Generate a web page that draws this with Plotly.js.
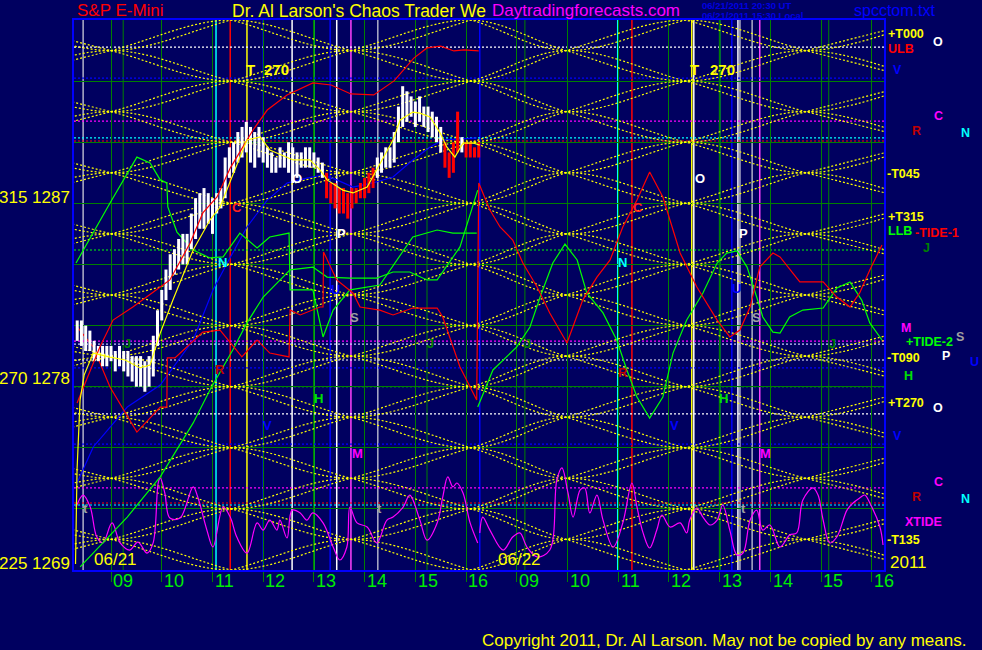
<!DOCTYPE html>
<html><head><meta charset="utf-8">
<script src="https://cdn.plot.ly/plotly-3.0.1.min.js"></script>
<style>html,body{margin:0;padding:0;background:#000060;}#chart{width:982px;height:650px;}</style>
</head><body><div id="chart"></div>
<script>
// x axis: session hours. 06/21 hour h -> h ; 06/22 hour h -> h + 8 (overnight compressed)
const HOURS_DAY1 = [9,10,11,12,13,14,15,16];
const HOURS_DAY2 = [17,18,19,20,21,22,23,24];
const HOUR_LABELS = ['09','10','11','12','13','14','15','16'];
const GRID_PRICES = [1272,1275,1278,1281,1284,1287,1290,1293];

// 5-minute S&P E-mini bars, 06/21 08:20 .. 16:15
const BAR_START = 8 + 20/60, BAR_STEP = 5/60;
const BAR_HIGH = [1281.25,1281.25,1281.0,1280.75,1280.25,1280.0,1280.0,1280.0,1280.0,1279.75,
 1280.0,1279.75,1279.75,1279.5,1279.5,1279.5,1279.25,1279.5,1280.5,1281.75,
 1282.75,1283.75,1284.5,1284.75,1285.25,1285.5,1285.5,1286.5,1287.25,1287.5,
 1287.75,1287.5,1287.25,1287.5,1287.75,1289.25,1289.75,1290.0,1290.5,1290.75,
 1291.0,1290.75,1290.5,1290.75,1290.25,1289.75,1289.5,1289.25,1289.75,1289.5,
 1290.0,1289.75,1289.5,1289.5,1289.75,1289.75,1289.5,1289.25,1289.0,1288.5,
 1288.0,1288.0,1287.75,1287.75,1287.5,1287.75,1287.75,1288.0,1288.25,1288.5,
 1288.75,1289.25,1289.5,1289.75,1289.75,1290.5,1291.75,1292.75,1292.5,1292.25,
 1292.0,1292.25,1291.75,1291.75,1291.5,1291.25,1290.75,1290.0,1289.5,1290.0,
 1291.5,1290.25,1290.0,1290.0,1289.75,1290.0];
const BAR_LOW = [1280.25,1280.0,1279.75,1279.75,1279.25,1279.25,1279.0,1279.0,1279.25,1278.75,
 1279.0,1278.75,1278.5,1278.25,1278.0,1278.0,1277.75,1278.0,1278.5,1280.0,
 1281.25,1282.25,1282.75,1283.5,1283.75,1284.0,1284.0,1284.75,1285.25,1285.75,
 1285.75,1286.0,1285.5,1286.5,1286.75,1287.25,1288.25,1288.5,1289.0,1289.25,
 1289.5,1289.0,1288.75,1289.25,1289.0,1288.75,1288.5,1288.5,1288.75,1288.75,
 1288.5,1288.0,1288.25,1288.75,1288.75,1288.75,1288.75,1288.5,1288.25,1287.25,
 1287.0,1286.75,1286.5,1286.5,1286.25,1286.75,1287.0,1287.25,1287.25,1287.5,
 1287.75,1288.25,1288.5,1288.75,1288.75,1289.0,1290.0,1290.75,1291.0,1291.25,
 1290.75,1291.0,1290.75,1290.5,1290.25,1290.0,1289.5,1288.75,1288.25,1288.5,
 1289.5,1289.5,1289.25,1289.25,1289.25,1289.25];
const RED_BARS = [59,60,61,62,63,64,65,66,67,68,69,70,87,88,89,90,92,93,94,95];

// yellow moving average of price
const MA_T = [8.3,8.33,8.39,8.47,8.65,8.98,9.28,9.57,9.77,9.97,10.22,10.62,10.95,11.15,11.4,11.68,11.94,12.13,12.59,12.92,13.12,13.26,13.57,13.77,14.05,14.24,14.56,14.7,14.95,15.09,15.29,15.49,15.62,15.78,15.94,16.14,16.27];
const MA_P = [1269.3,1273.9,1277.35,1278.57,1279.65,1279.45,1279.31,1278.92,1279.06,1280.63,1282.25,1284.71,1286.18,1286.82,1288.39,1290.11,1290.26,1289.62,1289.13,1289.13,1288.64,1288.15,1287.65,1287.51,1287.8,1288.64,1290.11,1291.09,1291.48,1291.43,1291.24,1290.45,1289.77,1289.27,1289.96,1289.96,1289.86];

// red ULB line
const ULB_T = [8.33,8.59,8.78,9.04,9.43,9.97,10.16,10.56,10.81,11.09,11.35,11.6,11.8,12.08,12.47,12.98,13.34,13.73,14.18,14.58,14.97,15.23,15.5,15.76,15.96,16.25];
const ULB_P = [1277.2,1278.82,1279.95,1281.27,1281.91,1282.89,1283.24,1285.05,1286.53,1287.31,1288.73,1289.77,1290.6,1291.58,1292.32,1292.91,1292.81,1292.37,1292.32,1293.01,1294.13,1294.63,1294.72,1294.48,1294.53,1294.48];

// red TIDE-1
const TIDE1_T = [8.33,8.65,8.98,9.51,9.97,10.1,10.11,10.26,10.81,11.15,11.58,11.88,12.13,12.51,12.53,12.73,13.12,13.18,13.19,13.45,13.77,13.91,14.3,14.56,14.95,15.43,15.54,15.88,16.21,16.25,16.47,16.67,16.92,17.12,17.4,17.65,17.99,18.3,18.58,18.84,19.09,19.37,19.62,19.88,20.02,20.22,20.55,20.95,21.2,21.4,21.6,21.79,22.05,22.19,22.58,23.04,23.31,23.57,23.76,23.96,24.2];
const TIDE1_P = [1280.93,1279.95,1277.98,1275.77,1277.0,1277.0,1279.41,1279.41,1280.68,1280.78,1279.46,1280.29,1279.65,1279.46,1281.76,1281.52,1281.91,1281.91,1284.61,1283.24,1282.6,1281.91,1281.76,1281.52,1281.86,1281.86,1281.42,1278.97,1277.35,1288.0,1286.67,1285.84,1285.2,1284.07,1282.89,1281.62,1280.14,1282.25,1283.38,1284.22,1285.84,1287.16,1288.54,1287.31,1286.18,1284.56,1282.89,1281.27,1280.44,1280.78,1281.91,1283.87,1284.56,1284.37,1283.14,1283.14,1282.4,1281.91,1282.6,1283.73,1284.95];

// green lines
const GA_T = [8.31,8.98,9.51,9.77,9.97,10.1,10.12,10.3,10.62,10.95,11.21,11.54,11.88,12.13,12.51,12.53,12.98,13.18,13.38,13.71,14.3,14.95,15.43,15.74,16.21];
const GA_P = [1284.07,1287.02,1289.27,1288.98,1288.15,1288.0,1286.82,1285.59,1284.71,1284.32,1284.37,1285.54,1284.81,1285.35,1285.54,1282.75,1282.75,1280.44,1281.76,1282.75,1282.99,1285.35,1285.69,1285.54,1285.54];
const GC_T = [8.39,9.32,9.97,10.62,10.95,11.4,11.68,12.0,12.53,12.98,13.26,13.71,14.24,14.56,14.89,15.23,15.43,15.88,16.23];
const GC_P = [1269.15,1271.6,1273.57,1276.22,1277.84,1279.8,1281.13,1282.4,1283.73,1283.87,1283.38,1283.33,1283.33,1283.63,1283.63,1283.24,1283.24,1284.86,1287.65];
const GD_T = [16.23,16.53,17.0,17.26,17.46,17.71,17.95,18.19,18.38,18.7,18.97,19.17,19.37,19.62,19.88,20.08,20.35,20.67,20.95,21.14,21.34,21.54,21.73,21.85,22.05,22.19,22.38,22.64,23.04,23.31,23.57,23.8,23.96,24.2];
const GD_P = [1277.0,1278.82,1279.95,1280.93,1282.4,1284.07,1285.0,1284.22,1282.6,1281.62,1280.29,1278.82,1277.49,1276.46,1277.49,1279.65,1281.27,1282.6,1284.07,1284.56,1284.66,1283.87,1282.4,1281.42,1280.68,1280.63,1281.42,1281.76,1281.86,1282.84,1283.14,1282.25,1281.13,1280.29];

// blue line
const BL_T = [8.33,8.65,9.32,9.97,10.62,11.01,11.29,11.68,12.08,12.47,12.86,13.18,13.45,13.77,14.16,14.56,14.95,15.29,15.54,16.21];
const BL_P = [1273.27,1275.04,1277.0,1278.08,1280.29,1282.75,1284.07,1285.84,1287.16,1288.0,1288.24,1288.39,1288.15,1287.8,1288.0,1288.29,1289.13,1289.77,1290.11,1290.21];

// magenta XTIDE
const XT1_T = [8.31,8.45,8.59,8.72,8.84,9.02,9.18,9.37,9.53,9.71,9.83,9.93,9.97,10.06,10.16,10.36,10.62,10.71,10.89,11.01,11.21,11.35,11.48,11.68,11.88,12.0,12.13,12.27,12.33,12.47,12.57,12.73,12.86,12.98,13.18,13.38,13.51,13.65,13.71,13.85,14.05,14.24,14.44,14.56,14.76,14.89,15.09,15.23,15.43,15.54,15.64,15.74,15.82,15.94,16.08,16.23];
const XT1_P = [1272.09,1272.68,1272.09,1270.62,1270.33,1271.31,1270.33,1269.98,1270.37,1269.83,1270.33,1273.27,1273.52,1272.78,1271.55,1271.55,1273.08,1272.58,1270.96,1270.13,1272.09,1271.6,1270.62,1269.83,1271.31,1270.96,1271.45,1270.96,1271.45,1270.57,1271.94,1271.8,1271.45,1271.8,1271.31,1270.13,1269.49,1270.13,1272.09,1271.31,1271.11,1270.33,1271.45,1271.6,1272.09,1272.68,1271.45,1270.47,1271.31,1272.58,1273.57,1273.08,1273.27,1272.78,1271.31,1270.33];
const XT2_T = [16.27,16.33,16.47,16.73,16.92,17.06,17.2,17.4,17.65,17.79,17.89,18.01,18.11,18.25,18.34,18.44,18.58,18.7,18.9,19.09,19.27,19.37,19.49,19.62,19.76,19.86,20.02,20.22,20.35,20.41,20.55,20.67,20.81,20.95,21.06,21.2,21.34,21.46,21.6,21.73,21.85,21.99,22.19,22.38,22.52,22.64,22.84,22.94,23.04,23.17,23.31,23.51,23.63,23.76,23.86,23.96,24.16,24.22];
const XT2_P = [1270.82,1271.6,1270.96,1269.98,1270.62,1270.82,1270.13,1269.64,1269.98,1273.42,1274.01,1272.78,1271.6,1272.93,1273.03,1271.8,1272.68,1271.45,1270.13,1271.31,1273.27,1272.09,1270.82,1270.08,1270.96,1271.7,1271.11,1271.31,1270.82,1271.45,1272.04,1271.6,1271.21,1271.45,1272.19,1270.96,1269.74,1269.83,1271.45,1271.94,1270.96,1271.21,1270.13,1270.72,1270.82,1272.44,1273.03,1272.68,1271.45,1270.33,1270.62,1271.94,1272.29,1272.53,1272.68,1272.29,1271.11,1270.23];

// time/price lattice nodes
const LAT_X = [6.63,9.0,11.37,13.73,16.1,17.97,20.33,22.7,25.07];
const LAT_SIN = [0,1.5,0,-1.5,0,1.5,0,-1.5,0];
const LAT_COS = [1.5,0,-1.5,0,1.5,0,-1.5,0,1.5];
const SIN_LEVELS = [1269,1272,1275,1278,1281,1284,1287,1290,1293,1296];
const COS_LEVELS = [1270.5,1273.5,1276.5,1279.5,1282.5,1285.5,1288.5,1291.5,1294.5];

// vertical event lines (session hours)
const V_DKGREEN = [9.24,15.23,17.16,23.15];
const V_LIME = [13.0,21.0];
const V_CYAN = [11.07,18.99];
const V_RED = [11.35,19.27];
const V_YELLOW = [11.68,20.45];
const V_WHITE = [12.57,13.45,20.49,21.36];
const V_GRAY = [8.45,14.26,21.4,21.64];
const V_BLUE = [12.0,13.32,16.27,21.24];
const V_MAGENTA = [13.73,21.79];

// horizontal dotted price levels
const H_WHITE = [1294.67,1279.31,1276.66];
const H_LAVENDER = [1280.09];
const H_BLUE = [1293.15,1278.92,1275.18];
const H_MAGENTA = [1291.04,1280.24,1273.03];
const H_CYAN = [1290.21,1272.19];
const H_RED = [1290.06,1272.29];
const H_LIME = [1284.71,1278.0];

// chart letters [text, time, price, color]
const LETTERS = [
 ['C',11.48,1286.82,'#ff2020'],['N',11.19,1284.12,'#00ffff'],['O',12.67,1288.24,'#ffffff'],
 ['P',13.55,1285.54,'#ffffff'],['U',13.42,1282.75,'#0000ff'],['S',13.81,1281.42,'#a0a0a0'],
 ['J',9.32,1280.14,'#008000'],['R',11.15,1278.82,'#c00000'],['H',13.1,1277.44,'#00e000'],
 ['V',12.09,1276.07,'#0000ff'],['M',13.85,1274.74,'#ff00ff'],['t',8.49,1272.04,'#a0a0a0'],
 ['t',14.3,1272.04,'#a0a0a0'],['J',15.29,1280.14,'#008000'],
 ['O',20.61,1288.24,'#ffffff'],['C',19.39,1286.82,'#ff2020'],['N',19.09,1284.12,'#00ffff'],
 ['P',21.46,1285.54,'#ffffff'],['U',21.34,1282.84,'#0000ff'],['S',21.73,1281.42,'#a0a0a0'],
 ['J',17.22,1280.14,'#008000'],['J',23.23,1280.14,'#008000'],['R',19.09,1278.72,'#c00000'],
 ['H',21.08,1277.44,'#00e000'],['V',20.1,1276.07,'#0000ff'],['M',21.91,1274.74,'#ff00ff'],
 ['t',21.46,1272.04,'#a0a0a0'],
 ['T',11.74,1293.59,'#ffff00'],['270',12.27,1293.59,'#ffff00'],
 ['T',20.51,1293.59,'#ffff00'],['270',21.06,1293.59,'#ffff00']
];

const FONT = 'Liberation Sans, Arial, sans-serif';
const traces = [];

// lattice
const lx = [], ly = [];
SIN_LEVELS.forEach(L => [1,-1].forEach(s => { LAT_X.forEach((x,i)=>{lx.push(x); ly.push(L + s*LAT_SIN[i]);}); lx.push(null); ly.push(null); }));
COS_LEVELS.forEach(L => [1,-1].forEach(s => { LAT_X.forEach((x,i)=>{lx.push(x); ly.push(L + s*LAT_COS[i]);}); lx.push(null); ly.push(null); }));
traces.push({x:lx, y:ly, mode:'lines', line:{color:'#ffff00', width:1.2, dash:'2px,2px', shape:'spline'}});

function line(x,y,color,w,shape){ return {x:x, y:y, mode:'lines', line:{color:color, width:w||1.2, shape:shape||'linear'}}; }
traces.push(line(XT1_T, XT1_P, '#ff00ff', 1.2, 'spline'));
traces.push(line(XT2_T, XT2_P, '#ff00ff', 1.2, 'spline'));
traces.push(line(BL_T, BL_P, '#0000ff', 1.2));
traces.push(line(GA_T, GA_P, '#00ff00', 1.2));
traces.push(line(GC_T, GC_P, '#00ff00', 1.2));
traces.push(line(GD_T, GD_P, '#00ff00', 1.2));
traces.push(line(TIDE1_T, TIDE1_P, '#ff0000', 1.2));

// price bars
const wx=[], wy=[], rx=[], ry=[];
BAR_HIGH.forEach((h,i)=>{
  const t = BAR_START + i*BAR_STEP;
  const red = RED_BARS.indexOf(i) >= 0;
  (red?rx:wx).push(t,t,null); (red?ry:wy).push(BAR_LOW[i],h,null);
});
traces.push({x:wx, y:wy, mode:'lines', line:{color:'#ffffff', width:3}});
traces.push({x:rx, y:ry, mode:'lines', line:{color:'#ff0000', width:3}});
traces.push(line(ULB_T, ULB_P, '#ff0000', 1.2));
traces.push(line(MA_T, MA_P, '#ffff00', 1.2));

// shapes
const shapes = [];
function vl(arr,color,w){ arr.forEach(t=>shapes.push({type:'line',xref:'x',yref:'paper',x0:t,x1:t,y0:0,y1:1,line:{color:color,width:w},layer:'below'})); }
vl(V_DKGREEN,'#008000',1); vl(V_LIME,'#00ff00',1.5); vl(V_CYAN,'#00ffff',1.5); vl(V_RED,'#ff0000',1.5);
vl(V_YELLOW,'#ffff00',1.5); vl(V_WHITE,'#ffffff',1.5); vl(V_GRAY,'#b0b0c8',1.5); vl(V_BLUE,'#0000ff',1.5); vl(V_MAGENTA,'#ff40ff',1.5);
function hl(arr,color){ arr.forEach(p=>shapes.push({type:'line',xref:'paper',yref:'y',x0:0,x1:1,y0:p,y1:p,line:{color:color,width:1.2,dash:'2px,2px'},layer:'below'})); }
hl(H_WHITE,'#ffffff'); hl(H_LAVENDER,'#c8c8ff'); hl(H_BLUE,'#0000ff'); hl(H_MAGENTA,'#ff00ff');
hl(H_CYAN,'#00ffff'); hl(H_RED,'#ff0000'); hl(H_LIME,'#00ff00');

// annotations
const anns = [];
function A(o){ anns.push(Object.assign({showarrow:false, xanchor:'center', yanchor:'middle', font:{family:FONT,size:17,color:'#ffff00'}}, o)); }
LETTERS.forEach(l=>A({x:l[1], y:l[2], xref:'x', yref:'y', text:'<b>'+l[0]+'</b>', font:{family:FONT,size:l[0]==='T'||l[0]==='270'?15:13,color:l[3]}}));
HOURS_DAY1.concat(HOURS_DAY2).forEach((h,i)=>A({x:h+0.24, y:-0.02, xref:'x', yref:'paper', text:HOUR_LABELS[i%8], font:{family:FONT,size:18,color:'#00ee00'}}));
A({x:9.08, y:0.02, xref:'x', yref:'paper', text:'06/21'});
A({x:17.06, y:0.02, xref:'x', yref:'paper', text:'06/22'});
const left = [['315 1287',0.678],['270 1278',0.349],['225 1269',0.0127]];
left.forEach(l=>A({x:-0.003, y:l[1], xref:'paper', yref:'paper', xanchor:'right', text:l[0]}));
// right margin labels [text, paper x, paper y, color, anchor]
const RIGHT = [
 ['+T000',1.0025,0.974,'#ffff00','left'],['ULB',1.0025,0.948,'#ff0000','left'],['O',1.0667,0.96,'#ffffff','center'],
 ['V',1.017,0.909,'#0000ff','center'],['C',1.0667,0.8255,'#ff00ff','center'],['R',1.0407,0.798,'#c00000','center'],
 ['N',1.1,0.7945,'#00ffff','center'],['-T045',1.0012,0.72,'#ffff00','left'],['+T315',1.0025,0.642,'#ffff00','left'],
 ['LLB',1.0025,0.616,'#00ff00','left'],['-TIDE-1',1.036,0.613,'#ff0000','left'],['J',1.052,0.585,'#008000','center'],
 ['M',1.0185,0.44,'#ff00ff','left'],['+TIDE-2',1.0247,0.4145,'#00ff00','left'],['S',1.094,0.4245,'#a0a0a0','center'],
 ['P',1.0765,0.389,'#ffffff','center'],['U',1.112,0.378,'#0000ff','center'],['-T090',1.0012,0.3855,'#ffff00','left'],
 ['H',1.03,0.3527,'#00e000','center'],['+T270',1.0025,0.3036,'#ffff00','left'],['O',1.0667,0.2945,'#ffffff','center'],
 ['V',1.017,0.2436,'#0000ff','center'],['C',1.0667,0.16,'#ff00ff','center'],['R',1.0407,0.1327,'#c00000','center'],
 ['N',1.1,0.129,'#00ffff','center'],['XTIDE',1.0235,0.0873,'#ff00ff','left'],['-T135',1.0012,0.0545,'#ffff00','left'],
];
RIGHT.forEach(r=>A({x:r[1], y:r[2], xref:'paper', yref:'paper', xanchor:r[4], text:'<b>'+r[0]+'</b>', font:{family:FONT,size:12.5,color:r[3]}}));
A({x:1.005, y:0.0145, xref:'paper', yref:'paper', xanchor:'left', text:'2011'});
// titles
A({x:0.0012, y:1.0164, xref:'paper', yref:'paper', xanchor:'left', text:'S&P E-Mini', font:{family:FONT,size:17,color:'#ff0000'}});
A({x:0.1926, y:1.0164, xref:'paper', yref:'paper', xanchor:'left', text:"Dr. Al Larson's Chaos Trader We", font:{family:FONT,size:17.5,color:'#ffff00'}});
A({x:0.5136, y:1.0164, xref:'paper', yref:'paper', xanchor:'left', text:'Daytradingforecasts.com', font:{family:FONT,size:17,color:'#ff00ff'}});
A({x:0.7728, y:1.0264, xref:'paper', yref:'paper', xanchor:'left', text:'<b>06/21/2011 20:30 UT</b>', font:{family:FONT,size:9.5,color:'#0000e0'}});
A({x:0.7728, y:1.0082, xref:'paper', yref:'paper', xanchor:'left', text:'<b>06/21/2011 15:30 Local</b>', font:{family:FONT,size:9.5,color:'#0000e0'}});
A({x:0.9605, y:1.0164, xref:'paper', yref:'paper', xanchor:'left', text:'spcctom.txt', font:{family:FONT,size:16,color:'#0000ff'}});
A({x:0.5012, y:-0.1273, xref:'paper', yref:'paper', xanchor:'left', text:'Copyright 2011, Dr. Al Larson. May not be copied by any means.'});

const layout = {
  width:982, height:650, margin:{l:74,r:98,t:20,b:80},
  paper_bgcolor:'#000060', plot_bgcolor:'#000060', showlegend:false, hovermode:false,
  xaxis:{range:[8.27,24.24], tickvals:HOURS_DAY1.concat(HOURS_DAY2), showticklabels:false, ticks:'outside', ticklen:10, tickcolor:'#008000',
    showgrid:true, gridcolor:'#008000', gridwidth:1, zeroline:false, showline:true, mirror:true, linecolor:'#0000ff', linewidth:2},
  yaxis:{range:[1269,1296], tickvals:GRID_PRICES, showticklabels:false, ticks:'', showgrid:true, gridcolor:'#008000', gridwidth:1,
    zeroline:false, showline:true, mirror:true, linecolor:'#0000ff', linewidth:2},
  shapes:shapes, annotations:anns
};
Plotly.newPlot('chart', traces, layout, {staticPlot:true, displayModeBar:false});
</script></body></html>
